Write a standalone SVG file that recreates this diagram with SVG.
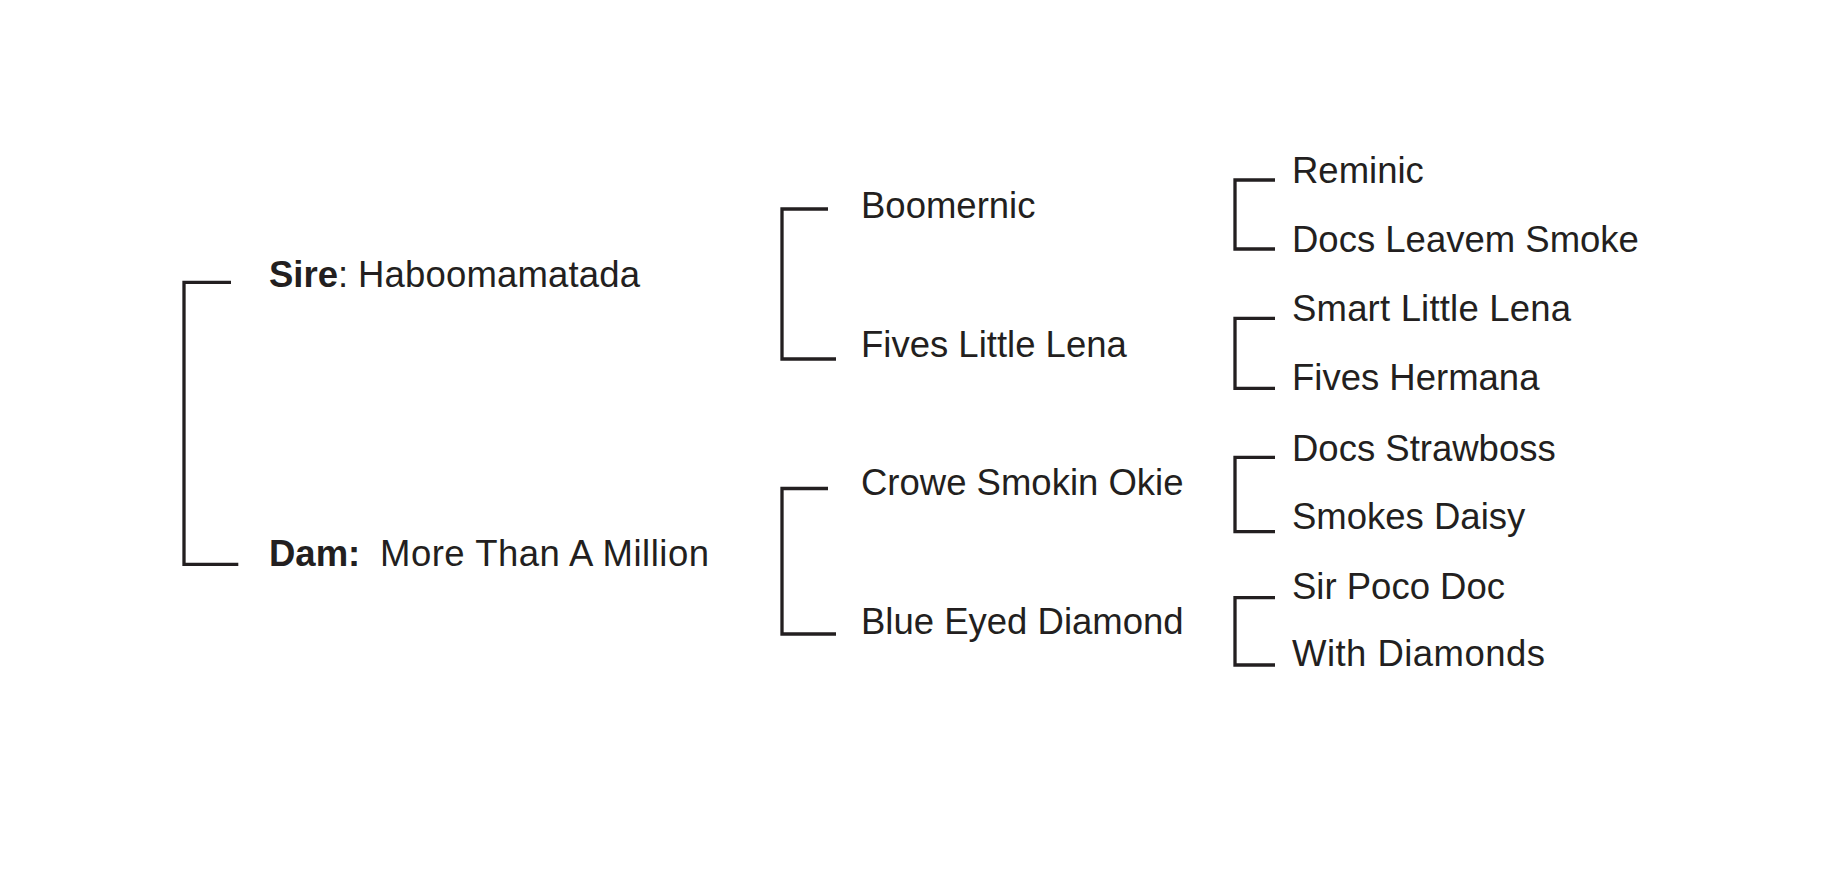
<svg xmlns="http://www.w3.org/2000/svg" width="1822" height="886" viewBox="0 0 1822 886">
<style>
.br{fill:none;stroke:#231f20;stroke-width:3.3;stroke-linejoin:miter;stroke-linecap:butt}
.t{font-family:"Liberation Sans",Arial,sans-serif;font-size:36.5px;fill:#231f20}
.b{font-weight:bold}
</style>
<rect width="1822" height="886" fill="#ffffff"/>
<g id="connectors">
<path class="br" d="M231,282.3 H184 V564.3 H238.3"/>
<path class="br" d="M828,209 H782 V359 H836"/>
<path class="br" d="M828,488.5 H782 V634 H836"/>
<path class="br" d="M1275,180 H1235 V249 H1275"/>
<path class="br" d="M1275,318.3 H1235 V388.3 H1275"/>
<path class="br" d="M1275,457.3 H1235 V531.7 H1275"/>
<path class="br" d="M1275,597.7 H1235 V665 H1275"/>
</g>
<g id="sire"><text class="t" x="269" y="287"><tspan class="b">Sire</tspan>: <tspan x="358" textLength="282" lengthAdjust="spacing">Haboomamatada</tspan></text></g>
<g id="dam"><text class="t" x="269" y="566"><tspan class="b">Dam:</tspan><tspan x="380" textLength="329" lengthAdjust="spacing">More Than A Million</tspan></text></g>
<g id="boomernic"><text class="t" x="861" y="217.7">Boomernic</text></g>
<g id="fives-little-lena"><text class="t" x="861" y="356.7">Fives Little Lena</text></g>
<g id="crowe-smokin-okie"><text class="t" x="861" y="495">Crowe Smokin Okie</text></g>
<g id="blue-eyed-diamond"><text class="t" x="861" y="634">Blue Eyed Diamond</text></g>
<g id="reminic"><text class="t" x="1292" y="182.7">Reminic</text></g>
<g id="docs-leavem-smoke"><text class="t" x="1292" y="251.7">Docs Leavem Smoke</text></g>
<g id="smart-little-lena"><text class="t" x="1292" y="321" textLength="279" lengthAdjust="spacing">Smart Little Lena</text></g>
<g id="fives-hermana"><text class="t" x="1292" y="390">Fives Hermana</text></g>
<g id="docs-strawboss"><text class="t" x="1292" y="460.7">Docs Strawboss</text></g>
<g id="smokes-daisy"><text class="t" x="1292" y="529.3">Smokes Daisy</text></g>
<g id="sir-poco-doc"><text class="t" x="1292" y="599">Sir Poco Doc</text></g>
<g id="with-diamonds"><text class="t" x="1292" y="666" textLength="253" lengthAdjust="spacing">With Diamonds</text></g>
</svg>
